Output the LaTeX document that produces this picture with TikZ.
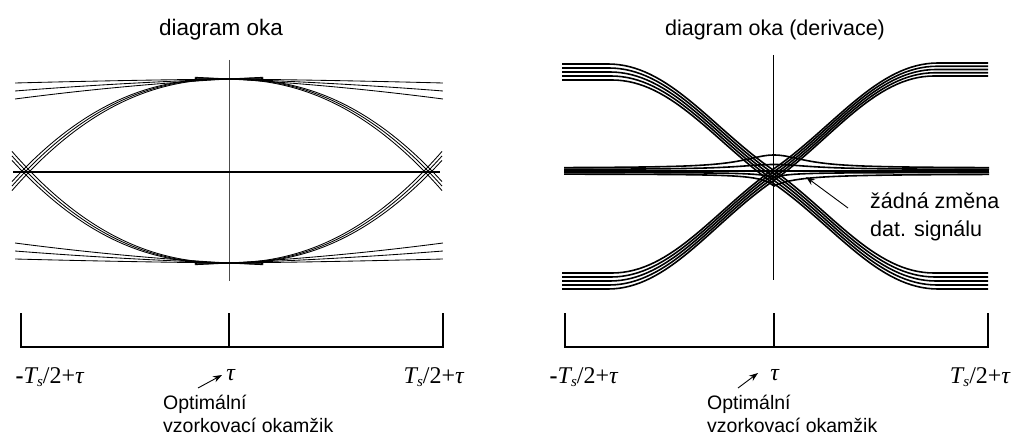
\documentclass[tikz,border=0pt]{standalone}
\usepackage{fontspec}
\setmainfont{Liberation Sans}
\newfontfamily\serifL{Liberation Serif}
\usetikzlibrary{arrows.meta}
\newcommand\subS{\kern-0.05em\raisebox{-0.32ex}{\fontsize{15}{15}\selectfont\textit{s}}}
\begin{document}
\begin{tikzpicture}[x=1pt,y=-1pt,
  thintrace/.style={line width=0.85pt},
  thicktrace/.style={line width=1.6pt},
  axisline/.style={line width=1.2pt},
  titletext/.style={font=\fontsize{22.5}{27}\selectfont, anchor=base, inner sep=0pt},
  mathlbl/.style={font=\serifL\fontsize{24}{28}\selectfont, anchor=base, inner sep=0pt},
  notetext/.style={font=\fontsize{19.5}{23}\selectfont, anchor=base west, inner sep=0pt},
  bignote/.style={font=\fontsize{21.5}{25}\selectfont, anchor=base west, inner sep=0pt},
  ptr/.style={line width=0.9pt, -{Stealth[length=9pt,width=6.5pt]}},
]
\useasboundingbox (0,0) rectangle (1013,436);

% titles
\node[titletext] (tl) at (221,36) {diagram oka};
\node[titletext, font=\fontsize{21.5}{26}\selectfont] (tr) at (775,36) {diagram oka (derivace)};

% ---------- left eye diagram ----------
\draw[line width=1pt, black!70] (229,60) -- (229,281);
\foreach \s in {-4,0,4} {
  \draw[thintrace] plot[domain=12:442, samples=100, smooth]
    (\x, {171-92*(1-((\x-227-\s)/201)*((\x-227-\s)/201)*sqrt(sqrt(abs((\x-227-\s)/201))))});
  \draw[thintrace] plot[domain=12:442, samples=100, smooth]
    (\x, {171+92*(1-((\x-227-\s)/201)*((\x-227-\s)/201)*sqrt(sqrt(abs((\x-227-\s)/201))))});
}
\foreach \q in {4,12,20} {
  \draw[thintrace] plot[domain=-0.16:1, samples=30, smooth] ({229-214*\x},{79+\q*(0.6*\x+0.4*\x*\x)});
  \draw[thintrace] plot[domain=-0.16:1, samples=30, smooth] ({229+214*\x},{79+\q*(0.6*\x+0.4*\x*\x)});
  \draw[thintrace] plot[domain=-0.16:1, samples=30, smooth] ({229-214*\x},{263-\q*(0.6*\x+0.4*\x*\x)});
  \draw[thintrace] plot[domain=-0.16:1, samples=30, smooth] ({229+214*\x},{263-\q*(0.6*\x+0.4*\x*\x)});
}
\draw[line width=2pt] (13,171.5) -- (440,171.5);

% ---------- right eye diagram (derivative) ----------
\foreach \k in {0,...,4} {
  \pgfmathsetmacro\ya{64+4*\k}
  \pgfmathsetmacro\yz{273+4*\k}
  \pgfmathsetmacro\ym{(\ya+\yz)/2}
  \pgfmathsetmacro\xs{\k-2}
  \draw[thicktrace] (562,\ya) -- ({610+\xs},\ya) .. controls ({670+\xs},\ya) and ({713+\xs},{\ym-42}) .. ({773+\xs},\ym) .. controls ({833+\xs},{\ym+42}) and ({876+\xs},\yz) .. ({936+\xs},\yz) -- (988,\yz);
  \pgfmathsetmacro\yc{273+4*\k}
  \pgfmathsetmacro\yd{63+3.25*\k}
  \pgfmathsetmacro\yn{(\yc+\yd)/2}
  \pgfmathsetmacro\xt{2-\k}
  \draw[thicktrace] (562,\yc) -- ({610+\xt},\yc) .. controls ({670+\xt},\yc) and ({713+\xt},{\yn+42}) .. ({773+\xt},\yn) .. controls ({833+\xt},{\yn-42}) and ({876+\xt},\yd) .. ({936+\xt},\yd) -- (988,\yd);
}
% "no data change" traces
\draw[thicktrace] plot[domain=564:989, samples=86, smooth] (\x, {168-13/(1+((\x-774)/38)^2)});
\draw[thicktrace] plot[domain=564:989, samples=86, smooth] (\x, {169.5-5/(1+((\x-774)/45)^2)});
\draw[thicktrace] (564,171) -- (989,171);
\draw[thicktrace] plot[domain=564:989, samples=86] (\x, {172.5+5/(1+abs(\x-774)/30)^2});
\draw[thicktrace] plot[domain=564:989, samples=86] (\x, {174+12/(1+abs(\x-774)/ifthenelse(\x<774,28,50))^2});
\draw[thintrace] (773,55) -- (773,280);

% ---------- axes ----------
\draw[axisline] (21,313) -- (21,347) -- (443,347) -- (443,313);
\draw[axisline] (229,313) -- (229,347);
\draw[axisline] (565,313) -- (565,347) -- (988,347) -- (988,313);
\draw[axisline] (774,313) -- (774,347);

% ---------- labels ----------
\node[mathlbl] (la1) at (50,383) {\textbf{-}\textit{T}\subS/2+\textit{τ}};
\node[mathlbl] (la2) at (231,380) {\textit{τ}};
\node[mathlbl] (la3) at (434,383) {\textit{T}\subS/2+\textit{τ}};
\node[mathlbl] (lb1) at (584,383) {\textbf{-}\textit{T}\subS/2+\textit{τ}};
\node[mathlbl] (lb2) at (775,380) {\textit{τ}};
\node[mathlbl, anchor=base east] (lb3) at (1011,383) {\textit{T}\subS/2+\textit{τ}};

\node[notetext] (na1) at (163,409) {Optimální};
\node[notetext] (na2) at (163,432) {vzorkovací okamžik};
\node[notetext] (nb1) at (707,409) {Optimální};
\node[notetext] (nb2) at (707,432) {vzorkovací okamžik};

\node[bignote] (z1) at (870,208) {žádná změna};
\node[bignote] (z2) at (870,236) {dat. signálu};

\coordinate (pa0) at (198,388); \coordinate (pa1) at (222,375);
\coordinate (pb0) at (738,388); \coordinate (pb1) at (758,373);
\coordinate (pz0) at (848,208); \coordinate (pz1) at (806,177);
\draw[ptr] (pa0) -- (pa1);
\draw[ptr] (pb0) -- (pb1);
\draw[ptr] (pz0) -- (pz1);
\end{tikzpicture}
\end{document}
